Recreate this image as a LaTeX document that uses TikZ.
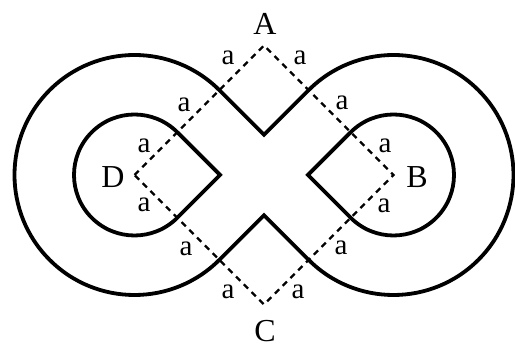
\documentclass[tikz,border=0pt]{standalone}
\usepackage{fontspec}
\setmainfont{Liberation Serif}
\begin{document}
\begin{tikzpicture}[x=1pt,y=1pt,
  curve/.style={line width=3.8pt,line join=miter},
  guide/.style={line width=2.2pt,dash pattern=on 6pt off 5pt},
  caplabel/.style={font=\fontsize{32}{32}\selectfont,inner sep=0pt},
  seglabel/.style={font=\fontsize{29}{29}\selectfont,inner sep=0pt}]
\def\d{129.5}\def\R{120}\def\r{60.5}
\useasboundingbox (-264,-172) rectangle (251,175);
% outer curve
\draw[curve] (0,{\R*sqrt(2)-\d}) -- ({-\d+\R/sqrt(2)},{\R/sqrt(2)})
  arc[start angle=45,end angle=315,radius=\R]
  -- (0,{\d-\R*sqrt(2)})
  -- ({\d-\R/sqrt(2)},{-\R/sqrt(2)})
  arc[start angle=225,end angle=495,radius=\R] -- cycle;
% inner teardrops
\draw[curve] ({-\d+\r*sqrt(2)},0) -- ({-\d+\r/sqrt(2)},{\r/sqrt(2)})
  arc[start angle=45,end angle=315,radius=\r] -- cycle;
\draw[curve] ({\d-\r*sqrt(2)},0) -- ({\d-\r/sqrt(2)},{-\r/sqrt(2)})
  arc[start angle=225,end angle=495,radius=\r] -- cycle;
% diamond
\coordinate (A) at (0,\d);
\coordinate (B) at (\d,0);
\coordinate (C) at (0,-\d);
\coordinate (D) at (-\d,0);
\draw[guide] (D) -- (A) -- (B) -- (C) -- cycle;
% vertex labels
\node[caplabel] (lA) at (1,151) {A};
\node[caplabel] (lB) at (153,-2) {B};
\node[caplabel] (lC) at (1,-156) {C};
\node[caplabel] (lD) at (-151,-2) {D};
% segment labels
\node[seglabel] (a1) at (-36,117) {a};
\node[seglabel] (a2) at (-80,70) {a};
\node[seglabel] (a3) at (-120,29) {a};
\node[seglabel] (a4) at (-120,-30) {a};
\node[seglabel] (a5) at (-78,-74) {a};
\node[seglabel] (a6) at (-36,-117) {a};
\node[seglabel] (a7) at (36,117) {a};
\node[seglabel] (a8) at (78,72) {a};
\node[seglabel] (a9) at (121,29) {a};
\node[seglabel] (a10) at (120,-31) {a};
\node[seglabel] (a11) at (77,-73) {a};
\node[seglabel] (a12) at (34,-117) {a};
\end{tikzpicture}
\end{document}
